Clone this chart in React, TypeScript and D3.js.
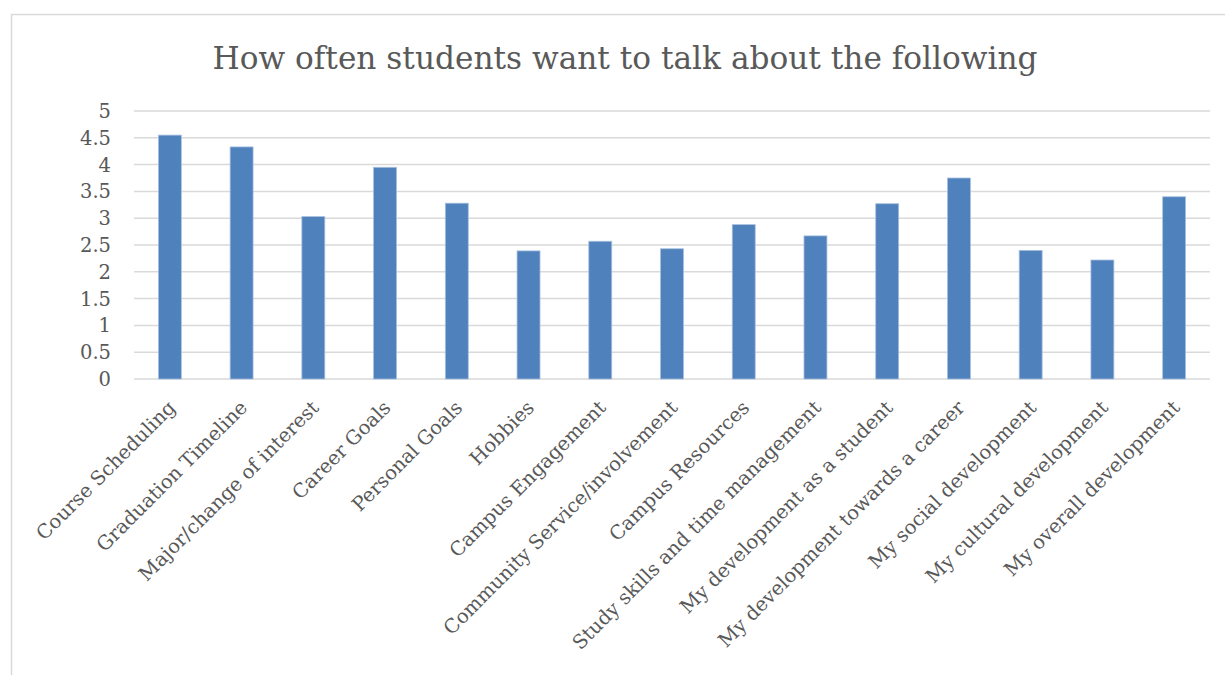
import React from "react";
import * as d3 from "d3";

const categories: string[] = [
  "Course Scheduling",
  "Graduation Timeline",
  "Major/change of interest",
  "Career Goals",
  "Personal Goals",
  "Hobbies",
  "Campus Engagement",
  "Community Service/involvement",
  "Campus Resources",
  "Study skills and time management",
  "My development as a student",
  "My development towards a career",
  "My social development",
  "My cultural development",
  "My overall development",
];

const values: number[] = [
  4.55, 4.33, 3.03, 3.95, 3.28, 2.39, 2.57, 2.43, 2.88, 2.67, 3.27, 3.75, 2.4,
  2.22, 3.4,
];

const yTicks: number[] = [0, 0.5, 1, 1.5, 2, 2.5, 3, 3.5, 4, 4.5, 5];

const title = "How often students want to talk about the following";

const W = 1225;
const H = 675;
const FONT = "'DejaVu Serif', serif";
const TEXT = "#595959";
const GRID = "#d9d9d9";
const BAR = "#4f81bd";

export default function App() {
  const x = d3
    .scaleBand<string>()
    .domain(categories)
    .range([134, 1210])
    .paddingInner(0.68)
    .paddingOuter(0.34);
  const y = d3.scaleLinear().domain([0, 5]).range([379, 111]);

  return (
    <svg
      width={W}
      height={H}
      style={{ position: "absolute", left: 0, top: 0, background: "#fff" }}
    >
      <rect
        x={11.5}
        y={14.5}
        width={W + 10}
        height={H + 10}
        fill="#fff"
        stroke={GRID}
        strokeWidth={1.5}
      />
      <text
        x={625}
        y={69}
        textAnchor="middle"
        fontFamily={FONT}
        fontSize={31.2}
        fill={TEXT}
      >
        {title}
      </text>
      {yTicks.map((t) => (
        <g key={t}>
          <line
            x1={134}
            x2={1210}
            y1={y(t)}
            y2={y(t)}
            stroke={GRID}
            strokeWidth={1.5}
          />
          <text
            x={111}
            y={y(t)}
            dy="0.36em"
            textAnchor="end"
            fontFamily={FONT}
            fontSize={19.5}
            fill={TEXT}
          >
            {d3.format("~g")(t)}
          </text>
        </g>
      ))}
      {categories.map((c, i) => (
        <rect
          key={c}
          x={x(c)}
          y={y(values[i])}
          width={x.bandwidth()}
          height={y(0) - y(values[i])}
          fill={BAR}
          stroke="#a9c0de"
          strokeWidth={0.8}
        />
      ))}
      {categories.map((c) => {
        const cx = (x(c) as number) + x.bandwidth() / 2 + 2;
        const cy = 404;
        return (
          <text
            key={c + "l"}
            transform={`translate(${cx},${cy}) rotate(-45)`}
            textAnchor="end"
            dy="0.35em"
            fontFamily={FONT}
            fontSize={19.5}
            fill={TEXT}
          >
            {c}
          </text>
        );
      })}
    </svg>
  );
}
